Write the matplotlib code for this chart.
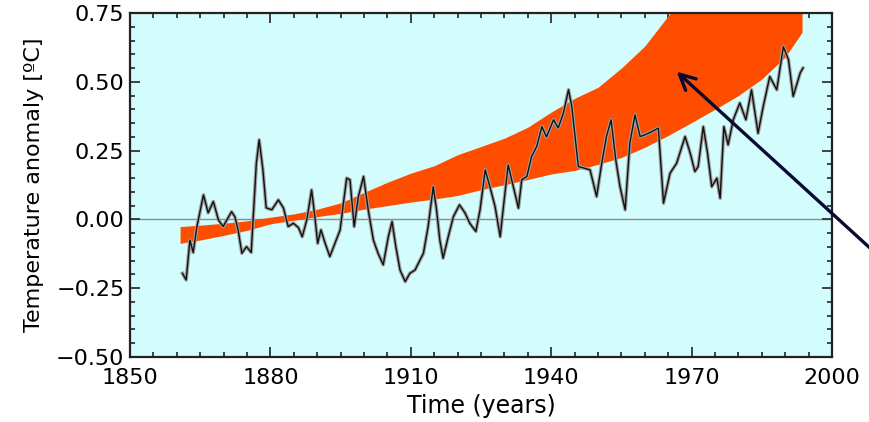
import numpy as np
import matplotlib
matplotlib.use("Agg")
import matplotlib.pyplot as plt
from matplotlib.ticker import MultipleLocator, FixedLocator, FuncFormatter

obs_years = [1861.2, 1862.0, 1862.8, 1863.5, 1864.3, 1865.7, 1866.7, 1867.8, 1868.9, 1869.9,
             1871.7, 1872.4, 1873.1, 1873.9, 1874.9, 1875.9, 1876.3, 1877.0, 1877.6, 1878.4,
             1879.1, 1880.3, 1881.7, 1882.8, 1883.8, 1884.9, 1886.0, 1886.8, 1887.8, 1888.8,
             1889.5, 1890.1, 1890.8, 1891.7, 1892.7, 1893.8, 1894.9, 1895.6, 1896.3, 1897.0,
             1897.9, 1898.8, 1899.9, 1900.9, 1902.0, 1903.0, 1904.1, 1905.2, 1906.0, 1906.8,
             1907.7, 1908.8, 1909.8, 1910.9, 1912.0, 1912.7, 1913.7, 1914.8, 1915.5, 1916.2,
             1916.9, 1918.0, 1919.1, 1920.4, 1921.6, 1922.6, 1923.9, 1924.8, 1925.9, 1926.9,
             1928.0, 1929.1, 1929.8, 1930.8, 1931.9, 1933.0, 1933.7, 1934.8, 1935.8, 1936.9,
             1938.0, 1939.0, 1940.5, 1941.5, 1942.6, 1943.7, 1944.4, 1945.1, 1945.8, 1947.1,
             1948.3, 1949.7, 1950.8, 1951.8, 1952.8, 1953.8, 1954.7, 1955.8, 1956.8, 1957.9,
             1959.0, 1960.0, 1961.5, 1962.9, 1964.0, 1965.4, 1966.8, 1968.6, 1969.7, 1970.7,
             1971.4, 1972.5, 1973.4, 1974.3, 1975.4, 1976.1, 1976.9, 1977.8, 1978.9, 1980.3,
             1981.6, 1982.8, 1984.2, 1985.3, 1986.7, 1988.2, 1989.6, 1990.7, 1991.7, 1993.2,
             1993.8]
obs_anom = [-0.196, -0.220, -0.075, -0.120, -0.026, 0.089, 0.024, 0.065, -0.002, -0.026,
            0.028, 0.010, -0.038, -0.123, -0.099, -0.120, 0.000, 0.205, 0.289, 0.180,
            0.042, 0.035, 0.071, 0.041, -0.026, -0.014, -0.030, -0.063, 0.000, 0.107,
            0.010, -0.087, -0.038, -0.087, -0.135, -0.087, -0.038, 0.059, 0.150, 0.144,
            -0.026, 0.083, 0.156, 0.035, -0.075, -0.123, -0.165, -0.063, -0.008, -0.099,
            -0.184, -0.226, -0.196, -0.184, -0.147, -0.123, -0.026, 0.119, 0.035, -0.075,
            -0.141, -0.063, 0.010, 0.053, 0.023, -0.014, -0.044, 0.035, 0.180, 0.119,
            0.047, -0.063, 0.047, 0.198, 0.119, 0.041, 0.144, 0.156, 0.228, 0.265,
            0.337, 0.300, 0.362, 0.332, 0.386, 0.471, 0.410, 0.301, 0.192, 0.186,
            0.180, 0.083, 0.204, 0.301, 0.362, 0.216, 0.119, 0.035, 0.277, 0.380,
            0.301, 0.307, 0.319, 0.332, 0.059, 0.168, 0.204, 0.301, 0.241, 0.174,
            0.192, 0.337, 0.241, 0.119, 0.150, 0.077, 0.337, 0.271, 0.362, 0.423,
            0.362, 0.471, 0.313, 0.410, 0.519, 0.471, 0.628, 0.580, 0.447, 0.532,
            0.550]

# model projection band (lower / upper edge)
band_years = [1860.7, 1865, 1870, 1875, 1880, 1885, 1890, 1895, 1900, 1905, 1910, 1915, 1920,
              1925, 1930, 1935, 1940, 1945, 1950, 1955, 1960, 1965, 1970, 1975, 1980, 1985,
              1990, 1993.6]
band_low = [-0.087, -0.075, -0.058, -0.040, -0.016, -0.003, 0.010, 0.022, 0.037, 0.050, 0.063,
            0.074, 0.087, 0.108, 0.126, 0.145, 0.165, 0.178, 0.200, 0.225, 0.262, 0.305,
            0.352, 0.400, 0.450, 0.510, 0.590, 0.680]
band_high = [-0.026, -0.021, -0.014, -0.005, 0.008, 0.020, 0.037, 0.060, 0.098, 0.135, 0.168,
             0.195, 0.235, 0.265, 0.295, 0.335, 0.390, 0.440, 0.480, 0.550, 0.630, 0.740,
             0.850, 0.950, 1.050, 1.150, 1.250, 1.350]

x_ticks = [1850, 1880, 1910, 1940, 1970, 2000]

BG = '#d3fcfd'
BAND = '#ff4d00'
TICK_C = '#333333'

fig = plt.figure(figsize=(8.69, 4.22), dpi=100)
ax = fig.add_axes([130 / 869, 1 - 357 / 422, 702 / 869, 344 / 422])
ax.set_facecolor(BG)

ax.axhline(0, color='#8c8c8c', lw=1.0, zorder=1)
ax.fill_between(band_years, band_low, band_high, color=BAND, lw=0, zorder=2)
ax.plot(obs_years, obs_anom, color='#a0a0a0', lw=2.6, zorder=3)
ax.plot(obs_years, obs_anom, color='#111111', lw=1.0, zorder=4)

ax.set_xlim(1850, 2000)
ax.set_ylim(-0.5, 0.75)
ax.xaxis.set_major_locator(FixedLocator(x_ticks))
ax.xaxis.set_minor_locator(MultipleLocator(5))
ax.yaxis.set_major_locator(MultipleLocator(0.25))
ax.yaxis.set_minor_locator(MultipleLocator(0.05))
ax.yaxis.set_major_formatter(FuncFormatter(lambda v, p: f"{v:.2f}".replace('-', '\u2212')))

ax.tick_params(which='both', direction='in', top=True, right=True, color=TICK_C, width=1.3)
ax.tick_params(which='major', length=7, labelsize=16, pad=8)
ax.tick_params(which='minor', length=3.5)
ax.tick_params(axis='y', which='major', pad=4)
for s in ax.spines.values():
    s.set_linewidth(1.6)
    s.set_color('#222222')

ax.set_xlabel('Time (years)', fontsize=17, labelpad=4)
ax.set_ylabel('Temperature anomaly [\u00baC]', fontsize=16, labelpad=9)

ax.annotate('', xy=(1966.8, 0.537), xycoords='data',
            xytext=(1.005, 0.405), textcoords='figure fraction',
            arrowprops=dict(arrowstyle='->', color='#0a0a30', lw=2.4,
                            mutation_scale=28, shrinkA=0, shrinkB=0),
            annotation_clip=False, zorder=6)

fig.savefig('out.png', dpi=100)
